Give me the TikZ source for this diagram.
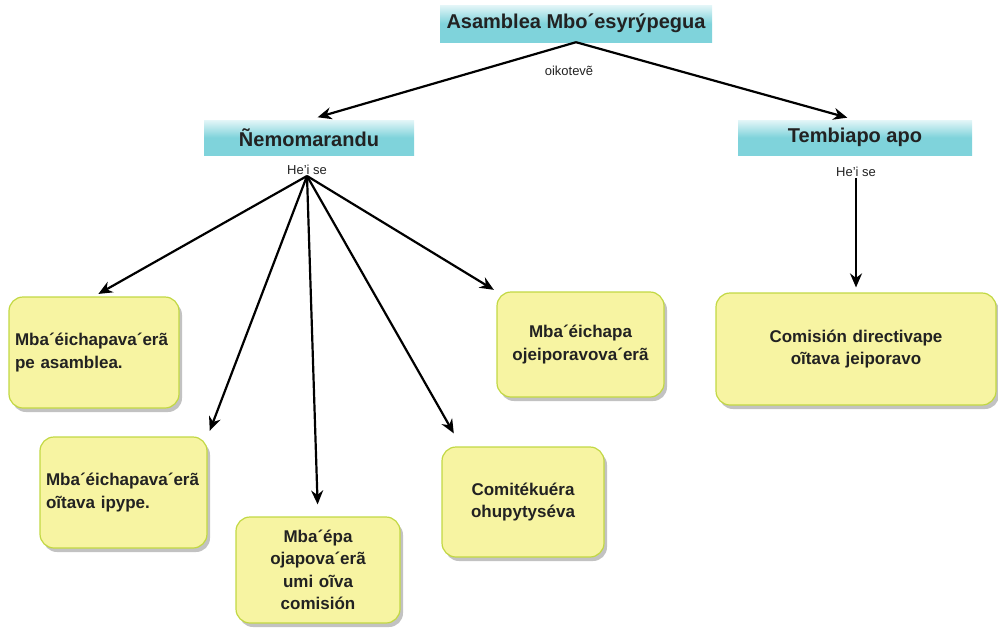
\documentclass[tikz,border=0pt]{standalone}
\usepackage{fontspec}
\setmainfont{Liberation Sans}
\usetikzlibrary{arrows.meta,shadows}
\definecolor{cyanD}{HTML}{7FD3DB}
\definecolor{cyanL}{HTML}{E4F6F8}
\definecolor{boxY}{HTML}{F7F4A2}
\definecolor{boxB}{HTML}{C2D843}
\definecolor{txt}{HTML}{222222}
\begin{document}
\begin{tikzpicture}[x=1pt,y=-1pt,
  head/.style={top color=cyanL, bottom color=cyanD, middle color=cyanD,
    inner sep=0pt, text=txt, font=\fontsize{20}{23}\selectfont\bfseries},
  lbl/.style={inner sep=1pt, text=txt, font=\fontsize{13}{15}\selectfont},
  ybox/.style={draw=boxB, line width=1.2pt, fill=boxY, rounded corners=14pt,
    drop shadow={shadow xshift=3pt, shadow yshift=-4pt, fill=black!40, opacity=0.6},
    text=txt, font=\fontsize{17}{22.5}\selectfont\bfseries, inner sep=6pt},
  arr/.style={line width=2.2pt, -{Stealth[length=14pt,width=12pt]}}
]
\useasboundingbox (0,0) rectangle (998,627);

\node[head, minimum width=272pt, minimum height=37pt] (top) at (576,23.5) {Asamblea Mbo´esyrýpegua};
\node[lbl] (oik) at (569,71) {oikotevẽ};
\node[head, minimum width=210pt, minimum height=35pt] (nem) at (309,137.5) {Ñemomarandu};
\node[head, minimum width=234pt, minimum height=35pt] (tem) at (855,137.5) {Tembiapo apo};
\node[lbl] (hs1) at (307,170) {He'i se};
\node[lbl] (hs2) at (856,172) {He'i se};

\node[ybox, minimum width=168pt, minimum height=111pt, text width=158pt, align=left]
  (b1) at (94,352.5) {Mba´éichapava´erã\\pe asamblea.};
\node[ybox, minimum width=167pt, minimum height=111pt, text width=155pt, align=left]
  (b2) at (123.5,492.5) {Mba´éichapava´erã\\oĩtava ipype.};
\node[ybox, minimum width=164pt, minimum height=106pt, text width=150pt, align=center]
  (b3) at (318,570) {Mba´épa\\ojapova´erã\\umi oĩva\\comisión};
\node[ybox, minimum width=162pt, minimum height=110pt, text width=150pt, align=center]
  (b4) at (523,502) {Comitékuéra\\ohupytyséva};
\node[ybox, minimum width=163pt, minimum height=105pt, text width=155pt, align=center]
  (b5) at (580.5,344.5) {Mba´éichapa\\ojeiporavova´erã};
\node[ybox, minimum width=280pt, minimum height=112pt, text width=260pt, align=center]
  (b6) at (856,349) {Comisión directivape\\oĩtava jeiporavo};

\draw[arr, shorten >=9pt] (top.south) -- (nem.north);
\draw[arr, shorten >=8pt] (top.south) -- (tem.north);

\draw[arr, shorten >=5pt] (hs1.south) -- (b1.north);
\draw[arr, shorten >=6pt] (hs1.south) -- (b2.north east);
\draw[arr, shorten >=12pt] (hs1.south) -- (b3.north);
\draw[arr, shorten >=15pt] (hs1.south) -- (b4.138);
\draw[arr, shorten >=3pt] (hs1.south) -- (b5.north west);
\draw[arr, shorten >=5pt] (hs2.south) -- (b6.north);
\end{tikzpicture}
\end{document}
